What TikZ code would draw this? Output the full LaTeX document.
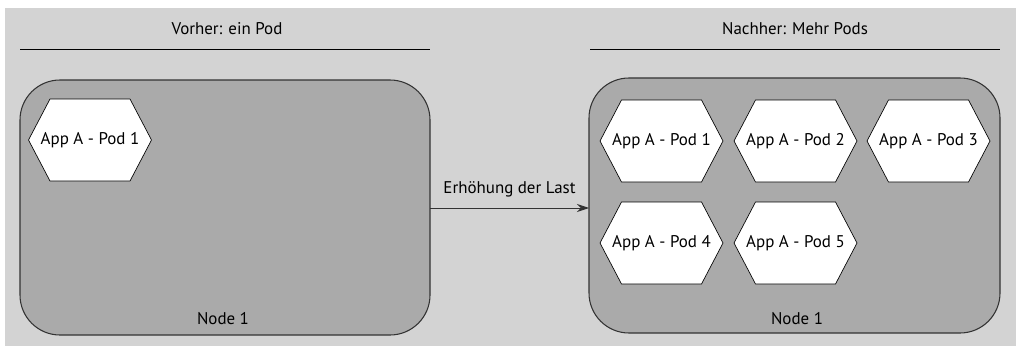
\documentclass[tikz,border=0pt]{standalone}
\usepackage{fontspec}
\setmainfont{PT Sans}
\usetikzlibrary{arrows.meta}
\definecolor{bggray}{HTML}{D3D3D3}
\definecolor{boxgray}{HTML}{AAAAAA}
\definecolor{edgegray}{HTML}{333333}
\tikzset{
  px/.style={x=0.75pt,y=-0.75pt},
  hostbox/.style={draw=edgegray,fill=boxgray,line width=0.8pt,rounded corners=30pt},
  hexagon/.style={draw=black,fill=white,line width=0.5pt},
  podlabel/.style={font=\fontsize{12.7}{15}\selectfont,inner sep=0pt},
  title/.style={font=\fontsize{12.7}{15}\selectfont,inner sep=0pt},
  rule/.style={draw=black,line width=0.7pt},
  flow/.style={draw=edgegray,line width=0.7pt,-{Stealth[length=9pt,width=6pt]}}
}
\newcommand{\podhex}[4]{%
  % #1 name, #2 x, #3 y, #4 text
  \path[hexagon] (#2-40,#3-41) -- (#2+40,#3-41) -- (#2+61.5,#3) -- (#2+40,#3+41)
     -- (#2-40,#3+41) -- (#2-61.5,#3) -- cycle;
  \node[podlabel] (#1) at (#2,#3) {#4};
}
\begin{document}
\begin{tikzpicture}[px]
\useasboundingbox (0,0) rectangle (1016,346);
\fill[bggray] (5,8) rectangle (1016,346);

% headings
\node[title] (tleft) at (227,29) {Vorher: ein Pod};
\draw[rule] (20,49) coordinate (l1) -- (430,49) coordinate (l2);
\node[title] (tright) at (795,29) {Nachher: Mehr Pods};
\draw[rule] (590,49) coordinate (r1) -- (1000,49) coordinate (r2);

% host before scaling
\path[hostbox] (20,80) rectangle (430,335);
\coordinate (leftE) at (430,208);
\node[title] (lnode) at (223,319) {Node 1};
\podhex{a1}{90}{140}{App A - Pod 1}

% host after scaling
\path[hostbox] (589,78) rectangle (1000,333);
\coordinate (rightW) at (589,208);
\node[title] (rnode) at (797,319) {Node 1};
\podhex{b1}{661.5}{141}{App A - Pod 1}
\podhex{b2}{795.5}{141}{App A - Pod 2}
\podhex{b3}{928.5}{141}{App A - Pod 3}
\podhex{b4}{661.5}{243}{App A - Pod 4}
\podhex{b5}{795.5}{243}{App A - Pod 5}

% scaling arrow
\draw[flow] (leftE) -- node[title,above=8pt,anchor=south] (load) {Erhöhung der Last} (rightW);
\end{tikzpicture}
\end{document}
